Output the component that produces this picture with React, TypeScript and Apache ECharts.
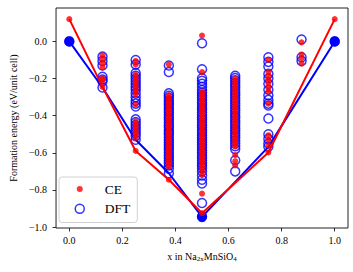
import React, { useEffect, useRef } from "react";
import * as echarts from "echarts";

// compositions (x in Na2xMnSiO4)
const compositions = [0, 0.125, 0.25, 0.375, 0.5, 0.625, 0.75, 0.875, 1];

// DFT formation energies per composition (eV/unit cell)
const dft000 = [0];
const dft125 = [-0.082, -0.105, -0.13, -0.19, -0.205, -0.215, -0.248];
const dft250 = [-0.1, -0.125, -0.17, -0.185, -0.2, -0.215, -0.23, -0.245, -0.26, -0.28, -0.3, -0.32, -0.335, -0.35, -0.42, -0.435, -0.45, -0.465, -0.48, -0.495, -0.51, -0.53];
const dft375 = [-0.13, -0.165, -0.28, -0.293, -0.304, -0.318, -0.331, -0.342, -0.356, -0.37, -0.381, -0.396, -0.41, -0.422, -0.437, -0.451, -0.462, -0.477, -0.49, -0.502, -0.517, -0.531, -0.544, -0.558, -0.571, -0.584, -0.598, -0.613, -0.626, -0.641, -0.655, -0.668, -0.685, -0.71];
const dft500 = [-0.01, -0.15, -0.198, -0.212, -0.228, -0.245, -0.262, -0.275, -0.29, -0.301, -0.316, -0.33, -0.343, -0.357, -0.368, -0.383, -0.396, -0.41, -0.422, -0.437, -0.45, -0.463, -0.478, -0.49, -0.505, -0.517, -0.531, -0.545, -0.558, -0.572, -0.586, -0.598, -0.613, -0.627, -0.64, -0.655, -0.668, -0.682, -0.7, -0.722, -0.745, -0.765, -0.87, -0.945];
const dft625 = [-0.185, -0.197, -0.21, -0.224, -0.238, -0.25, -0.265, -0.278, -0.29, -0.305, -0.318, -0.332, -0.345, -0.36, -0.372, -0.386, -0.4, -0.412, -0.427, -0.44, -0.453, -0.468, -0.48, -0.494, -0.508, -0.52, -0.535, -0.55, -0.565, -0.58, -0.64, -0.7];
const dft750 = [-0.085, -0.11, -0.135, -0.175, -0.2, -0.228, -0.26, -0.29, -0.315, -0.335, -0.345, -0.415, -0.5, -0.525, -0.55, -0.568];
const dft875 = [0.01, -0.085, -0.105];
const dft1000 = [0];

// CE predicted formation energies per composition (eV/unit cell)
const ce000 = [0.12];
const ce125 = [-0.075, -0.098, -0.118, -0.14, -0.2, -0.21, -0.245];
const ce250 = [-0.105, -0.125, -0.18, -0.195, -0.21, -0.225, -0.24, -0.255, -0.27, -0.285, -0.34, -0.43, -0.445, -0.46, -0.475, -0.49, -0.505, -0.52, -0.59];
const ce375 = [-0.125, -0.29, -0.302, -0.316, -0.327, -0.341, -0.353, -0.366, -0.378, -0.391, -0.404, -0.418, -0.43, -0.443, -0.457, -0.47, -0.483, -0.497, -0.51, -0.524, -0.537, -0.55, -0.564, -0.577, -0.59, -0.604, -0.617, -0.631, -0.645, -0.66, -0.675, -0.745];
const ce500 = [0.032, -0.165, -0.27, -0.283, -0.297, -0.31, -0.322, -0.336, -0.35, -0.362, -0.375, -0.39, -0.402, -0.417, -0.43, -0.442, -0.457, -0.47, -0.483, -0.497, -0.51, -0.523, -0.537, -0.55, -0.562, -0.577, -0.59, -0.603, -0.617, -0.63, -0.644, -0.657, -0.671, -0.685, -0.7, -0.72, -0.82, -0.925];
const ce625 = [-0.2, -0.214, -0.227, -0.24, -0.255, -0.268, -0.28, -0.295, -0.308, -0.322, -0.335, -0.35, -0.362, -0.376, -0.39, -0.403, -0.417, -0.43, -0.444, -0.457, -0.47, -0.484, -0.497, -0.512, -0.525, -0.54, -0.553, -0.567, -0.612, -0.645, -0.668];
const ce750 = [-0.1, -0.165, -0.185, -0.205, -0.225, -0.25, -0.27, -0.335, -0.505, -0.53, -0.56, -0.598];
const ce875 = [-0.005, -0.07, -0.09, -0.12];
const ce1000 = [0.12];

// ground-state (hull) lines
const hullX = [0, 0.125, 0.25, 0.375, 0.5, 0.75, 1];
const dftHull = [0, -0.248, -0.53, -0.71, -0.945, -0.568, 0];
const ceHull = [0.12, -0.245, -0.59, -0.745, -0.925, -0.598, 0.12];
const dftHullMarked = [0, 0.5, 1];

// tick labels
const xTicks = [0, 0.2, 0.4, 0.6, 0.8, 1.0];
const yTicks = [-1.0, -0.8, -0.6, -0.4, -0.2, 0.0];

const dftByComposition = [dft000, dft125, dft250, dft375, dft500, dft625, dft750, dft875, dft1000];
const ceByComposition = [ce000, ce125, ce250, ce375, ce500, ce625, ce750, ce875, ce1000];

const FONT = "Liberation Serif";
const RED = "#ff0000";
const BLUE = "#0000ff";

const toPoints = (groups: number[][]) =>
  groups.flatMap((vals, i) => vals.map((v) => [compositions[i], v]));

const fmt = (v: number) => v.toFixed(1).replace("-", "\u2212");

export default function App() {
  const ref = useRef<HTMLDivElement>(null);
  useEffect(() => {
    if (!ref.current) return;
    const chart = echarts.init(ref.current, undefined, { renderer: "svg" });
    const option: any = {
      animation: false,
      backgroundColor: "#ffffff",
      textStyle: { fontFamily: FONT },
      grid: {
        left: 54,
        right: 5,
        top: 8,
        bottom: 44,
        show: true,
        borderColor: "#222",
        borderWidth: 1,
        backgroundColor: "transparent",
      },
      legend: {
        orient: "vertical",
        left: 59,
        top: 177,
        padding: [5, 7, 6, 0],
        itemGap: 5,
        itemWidth: 40,
        itemHeight: 14,
        borderColor: "#d0d0d0",
        borderWidth: 1,
        borderRadius: 3,
        backgroundColor: "rgba(255,255,255,0.8)",
        textStyle: { fontFamily: FONT, fontSize: 13.5, color: "#000", lineHeight: 14 },
        data: [
          {
            name: "CE",
            icon: "path://M0,0 M40,14 M23,7 A3,3 0 1,1 17,7 A3,3 0 1,1 23,7 Z",
            itemStyle: { color: RED, borderWidth: 0 },
          },
          {
            name: "DFT",
            icon: "path://M0,0 M40,14 M24.5,7 A4.5,4.5 0 1,1 15.5,7 A4.5,4.5 0 1,1 24.5,7 Z",
            itemStyle: { color: "rgba(0,0,0,0)", borderColor: BLUE, borderWidth: 1.5 },
          },
        ],
      },
      xAxis: {
        type: "value",
        min: -0.05,
        max: 1.05,
        splitLine: { show: false },
        axisLine: { show: false, onZero: false },
        axisTick: {
          show: true,
          inside: false,
          length: 3.5,
          lineStyle: { color: "#000", width: 0.8 },
          customValues: xTicks,
        },
        axisLabel: {
          margin: 7,
          fontFamily: FONT,
          fontSize: 10,
          color: "#000",
          customValues: xTicks,
          formatter: (v: number) => fmt(v),
        },
        name: "x in Na{s|2x}MnSiO{s|4}",
        nameLocation: "middle",
        nameGap: 20,
        nameTextStyle: {
          fontFamily: FONT,
          fontSize: 10,
          color: "#000",
          rich: {
            s: { fontFamily: FONT, fontSize: 7, lineHeight: 8, padding: [6, 0, 0, 0], color: "#000" },
          },
        },
      },
      yAxis: {
        type: "value",
        min: -1.005,
        max: 0.18,
        splitLine: { show: false },
        axisLine: { show: false, onZero: false },
        axisTick: {
          show: true,
          inside: false,
          length: 3.5,
          lineStyle: { color: "#000", width: 0.8 },
          customValues: yTicks,
        },
        axisLabel: {
          margin: 9,
          fontFamily: FONT,
          fontSize: 10,
          color: "#000",
          customValues: yTicks,
          formatter: (v: number) => fmt(v),
        },
        name: "Formation energy (eV/unit cell)",
        nameLocation: "middle",
        nameGap: 37,
        nameTextStyle: { fontFamily: FONT, fontSize: 10, color: "#000" },
      },
      series: [
        {
          name: "DFT hull",
          type: "line",
          data: hullX.map((x, i) => ({
            value: [x, dftHull[i]],
            symbol: dftHullMarked.includes(x) ? "circle" : "none",
          })),
          symbolSize: 10,
          showSymbol: true,
          lineStyle: { color: BLUE, width: 2 },
          itemStyle: { color: BLUE },
          z: 2,
        },
        {
          name: "DFT",
          type: "scatter",
          data: toPoints(dftByComposition),
          symbol: "circle",
          symbolSize: 9,
          itemStyle: { color: "rgba(0,0,0,0)", borderColor: BLUE, borderWidth: 1.5 },
          z: 3,
        },
        {
          name: "CE",
          type: "scatter",
          data: toPoints(ceByComposition),
          symbol: "circle",
          symbolSize: 6,
          itemStyle: { color: RED },
          z: 4,
        },
        {
          name: "CE hull",
          type: "line",
          data: hullX.map((x, i) => [x, ceHull[i]]),
          showSymbol: false,
          lineStyle: { color: RED, width: 2 },
          itemStyle: { color: RED },
          z: 5,
        },
      ],
    };
    chart.setOption(option);
    return () => chart.dispose();
  }, []);
  return (
    <div
      ref={ref}
      style={{ position: "fixed", left: 0, top: 0, width: 353, height: 272, background: "#fff" }}
    />
  );
}
